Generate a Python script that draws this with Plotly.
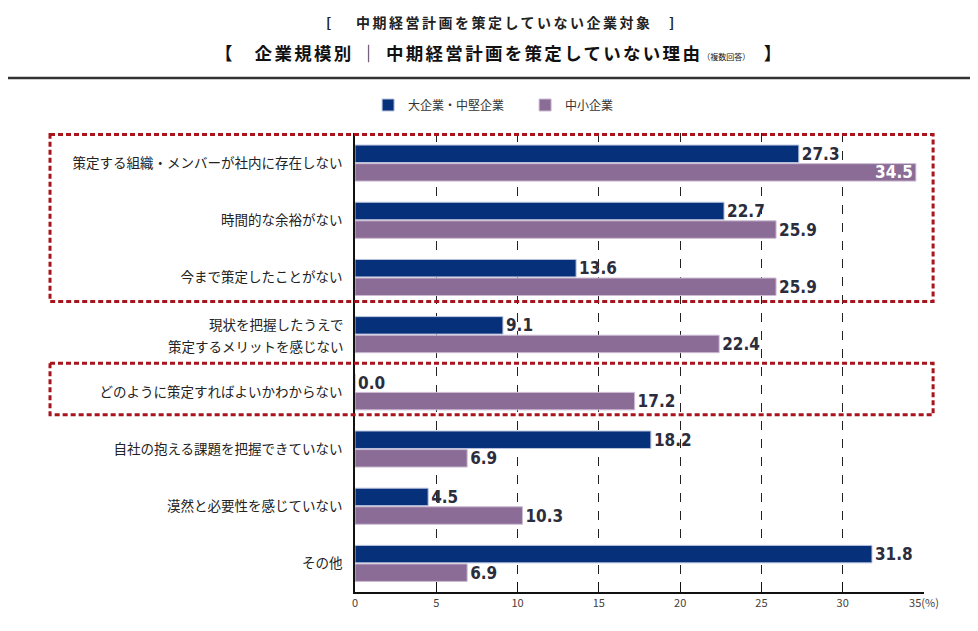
import plotly.graph_objects as go

# Data
reasons = ['策定する組織・メンバーが社内に存在しない', '時間的な余裕がない', '今まで策定したことがない',
           '現状を把握したうえで策定するメリットを感じない', 'どのように策定すればよいかわからない',
           '自社の抱える課題を把握できていない', '漠然と必要性を感じていない', 'その他']
# the long label is written on two lines in the chart
two_line = {'現状を把握したうえで策定するメリットを感じない': ['現状を把握したうえで', '策定するメリットを感じない']}
large_mid = [27.3, 22.7, 13.6, 9.1, 0.0, 18.2, 4.5, 31.8]
small_mid = [34.5, 25.9, 25.9, 22.4, 17.2, 6.9, 10.3, 6.9]
x_ticks = [0, 5, 10, 15, 20, 25, 30, 35]
x_ticktext = ['0', '5', '10', '15', '20', '25', '30', '35(%)']

NAVY = '#06317a'
PURPLE = '#8b6c96'
LABEL_FONT = dict(family='DejaVu Sans Condensed', size=17, color='#2b2d3c', weight='bold')
TICK_FONT = dict(family='Noto Sans CJK JP', size=13.5, color='#222222')

fig = go.Figure()

fig.add_trace(go.Bar(
    y=reasons, x=large_mid, orientation='h', name='大企業・中堅企業',
    marker=dict(color=NAVY, line=dict(color='#b9c3de', width=1)),
    text=['%.1f' % v for v in large_mid], textposition='outside',
    textfont=LABEL_FONT, cliponaxis=False))

# the longest bar hits the frame, so its label sits inside in white
pos = ['inside' if v > 33 else 'outside' for v in small_mid]
fig.add_trace(go.Bar(
    y=reasons, x=small_mid, orientation='h', name='中小企業',
    marker=dict(color=PURPLE, line=dict(color='#cdbcd3', width=1)),
    text=['%.1f' % v for v in small_mid], textposition=pos,
    insidetextanchor='end',
    textfont=LABEL_FONT,
    insidetextfont=dict(family='DejaVu Sans Condensed', size=17, color='white', weight='bold'),
    outsidetextfont=LABEL_FONT, cliponaxis=False))

# two-line category label, drawn as two rows with wider spacing
for cat, lines in two_line.items():
    for k, line in enumerate(lines):
        fig.add_annotation(text=line, xref='paper', yref='y', x=0, y=cat, xanchor='right',
                           xshift=-9, yshift=11 - 22 * k, showarrow=False, font=TICK_FONT)

# red dashed highlight boxes
red_boxes = [(-0.5, 2.42), (3.5, 4.4)]
for y0, y1 in red_boxes:
    fig.add_shape(type='rect', xref='paper', yref='y', x0=-0.536, x1=1.016, y0=y0, y1=y1,
                  line=dict(color='#a8141c', width=3, dash='5px,3px'))

# rule under the title
fig.add_shape(type='line', xref='paper', yref='paper', x0=-0.63, x1=1.1, y0=1.12, y1=1.12,
              line=dict(color='#333333', width=2.5))

fig.add_annotation(text='<b><span style="letter-spacing:2.5px">[　 中期経営計画を策定していない企業対象　]</span></b>',
                   xref='paper', yref='paper', x=0.258, y=1.242, xanchor='center', yanchor='middle',
                   showarrow=False, font=dict(size=14, color='#222222'))
fig.add_annotation(text='<b><span style="letter-spacing:2.3px">【　企業規模別 ｜ 中期経営計画を策定していない理由</span></b>'
                        '<span style="font-size:8px">（複数回答）</span><b>　】</b>',
                   xref='paper', yref='paper', x=0.251, y=1.176, xanchor='center', yanchor='middle',
                   showarrow=False, font=dict(size=17.5, color='#111111'))

fig.update_layout(
    width=978, height=631,
    margin=dict(l=347, r=62, t=125, b=47),
    paper_bgcolor='white', plot_bgcolor='white',
    font=dict(family='Noto Sans CJK JP', color='#333333'),
    barmode='group', bargap=0.35, bargroupgap=0.06,
    uniformtext=dict(minsize=17, mode='show'),
    legend=dict(orientation='h', x=0.023, xanchor='left', y=1.061, yanchor='middle',
                font=dict(size=12, color='#333333'), itemwidth=30, traceorder='normal',
                entrywidth=112, entrywidthmode='pixels'),
    xaxis=dict(range=[0, 35], tickvals=x_ticks, ticktext=x_ticktext,
               showgrid=True, gridcolor='#222222', griddash='dash', gridwidth=1,
               showline=True, linecolor='#111111', linewidth=1.5,
               ticks='inside', ticklen=10, tickcolor='#111111',
               tickfont=dict(size=11, color='#4a4038'), zeroline=False, fixedrange=True),
    yaxis=dict(autorange='reversed', showline=True, linecolor='#111111', linewidth=1.5,
               tickvals=reasons, ticktext=['' if r in two_line else r for r in reasons],
               tickfont=TICK_FONT, ticks='', ticklabelstandoff=8),
)

fig.write_html("out.html")
